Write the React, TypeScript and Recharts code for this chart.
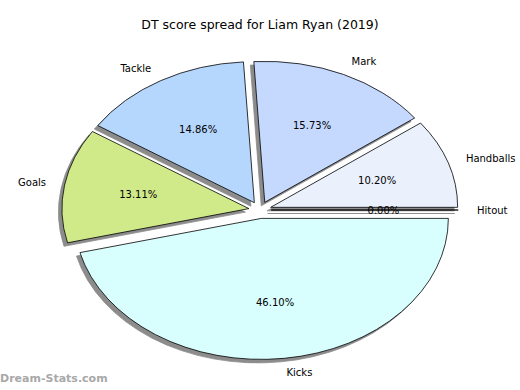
import React from "react";
import { PieChart, Pie, Cell } from "recharts";

const categories = ["Handballs", "Mark", "Tackle", "Goals", "Kicks", "Hitout"];
const shares = [10.2, 15.73, 14.86, 13.11, 46.1, 0.0];
const colors = ["#eaf1fd", "#c5d9fe", "#b5d7fe", "#d0ea8a", "#d8fefe", "#ffffff"];

const data = categories.map((name, i) => ({ name, value: shares[i] }));

// matplotlib-ish settings: elliptical pie, every wedge exploded a bit
const SX = 187 / 141;
const EXPLODE = 0.06;
const RAD = Math.PI / 180;
const FONT = "DejaVu Sans, sans-serif";

const wedgePath = (cx: number, cy: number, r: number, a0: number, a1: number) => {
  const rx = r * SX;
  const x0 = cx + rx * Math.cos(a0 * RAD);
  const y0 = cy - r * Math.sin(a0 * RAD);
  const x1 = cx + rx * Math.cos(a1 * RAD);
  const y1 = cy - r * Math.sin(a1 * RAD);
  const large = a1 - a0 > 180 ? 1 : 0;
  return `M${cx},${cy} L${x0},${y0} A${rx},${r} 0 ${large} 0 ${x1},${y1} Z`;
};

const renderWedge = (props: any) => {
  const { cx, cy, outerRadius, startAngle, endAngle, fill } = props;
  const mid = (startAngle + endAngle) / 2;
  const ex = cx + EXPLODE * outerRadius * SX * Math.cos(mid * RAD);
  const ey = cy - EXPLODE * outerRadius * Math.sin(mid * RAD);
  const d = wedgePath(ex, ey, outerRadius, startAngle, endAngle);
  return (
    <g>
      <path d={d} transform="translate(-3.5,3.5)" fill="#8c8c8c" stroke="#8c8c8c" strokeWidth={0.8} />
      <path d={d} fill={fill} stroke="#000" strokeWidth={0.8} />
    </g>
  );
};

const renderLabel = (props: any) => {
  const { cx, cy, outerRadius, midAngle, percent, name } = props;
  const c = Math.cos(midAngle * RAD);
  const s = Math.sin(midAngle * RAD);
  const rx = outerRadius * SX;
  const ex = cx + EXPLODE * rx * c;
  const ey = cy - EXPLODE * outerRadius * s;
  return (
    <g>
      <text
        x={ex + 1.1 * rx * c}
        y={ey - 1.1 * outerRadius * s}
        textAnchor={c > 0 ? "start" : "end"}
        dominantBaseline="central"
        fontSize={10}
        fontFamily={FONT}
        fill="#000"
      >
        {name}
      </text>
      <text
        x={ex + 0.6 * rx * c}
        y={ey - 0.6 * outerRadius * s}
        textAnchor="middle"
        dominantBaseline="central"
        fontSize={10}
        fontFamily={FONT}
        fill="#000"
      >
        {(percent * 100).toFixed(2)}%
      </text>
    </g>
  );
};

export default function App() {
  return (
    <div style={{ position: "absolute", left: 0, top: 0, width: 520, height: 390, background: "#fff" }}>
      <div
        style={{
          position: "absolute",
          top: 17,
          width: 520,
          textAlign: "center",
          fontFamily: FONT,
          fontSize: 12.5,
          color: "#000",
        }}
      >
        DT score spread for Liam Ryan (2019)
      </div>
      <PieChart
        width={520}
        height={390}
        margin={{ top: 0, right: 0, bottom: 0, left: 0 }}
        style={{ position: "absolute", left: 0, top: 0 }}
      >
        <Pie
          data={data}
          dataKey="value"
          nameKey="name"
          cx={260}
          cy={210}
          outerRadius={141}
          startAngle={0}
          endAngle={360}
          stroke="none"
          shape={renderWedge}
          label={renderLabel}
          labelLine={false}
          isAnimationActive={false}
        >
          {data.map((d, i) => (
            <Cell key={d.name} fill={colors[i]} />
          ))}
        </Pie>
      </PieChart>
      <div
        style={{
          position: "absolute",
          left: 0,
          top: 372,
          fontFamily: FONT,
          fontWeight: "bold",
          fontSize: 11,
          color: "#a8a8a8",
        }}
      >
        Dream-Stats.com
      </div>
    </div>
  );
}
